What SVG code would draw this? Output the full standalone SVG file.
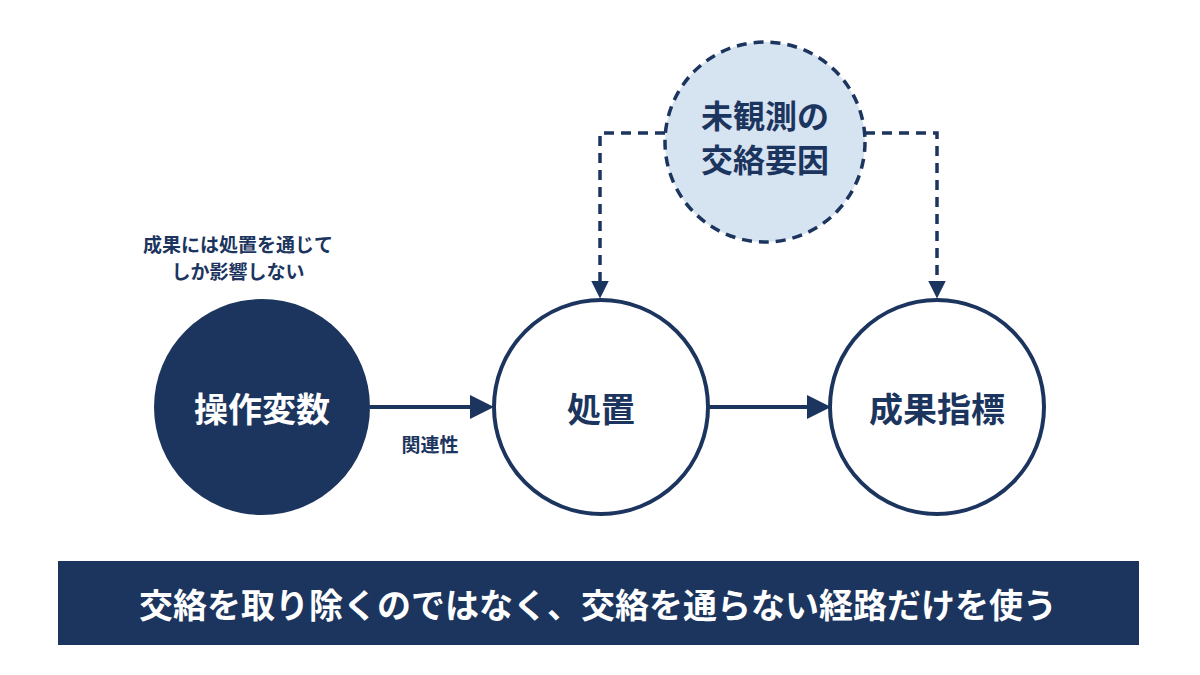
<svg xmlns="http://www.w3.org/2000/svg" width="1200" height="675" viewBox="0 0 1200 675">
<defs>
<style>
text{font-family:"Noto Sans CJK JP","Noto Sans",sans-serif;font-weight:bold;text-anchor:middle;dominant-baseline:central}
.n{fill:#fff;stroke:#1c355e;stroke-width:4}
.c{stroke:#1c355e;stroke-width:4;fill:none}
.d{stroke:#1c355e;stroke-width:3.5;fill:none;stroke-dasharray:10 7}
</style>
<marker id="a" markerWidth="6" markerHeight="6" refX="5" refY="3" orient="auto" markerUnits="strokeWidth"><path d="M0,0L6,3L0,6z" fill="#1c355e"/></marker>
<marker id="b" markerWidth="5" markerHeight="5" refX="4" refY="2.5" orient="auto" markerUnits="strokeWidth"><path d="M0,0L5,2.5L0,5z" fill="#1c355e"/></marker>
</defs>
<rect width="1200" height="675" fill="#fff"/>
<g id="connectors">
<path class="c" d="M370,407H490" marker-end="url(#a)"/>
<path class="c" d="M708,407H827" marker-end="url(#a)"/>
<path class="d" d="M665,133H600V295" marker-end="url(#b)"/>
<path class="d" d="M865,133H937V295" marker-end="url(#b)"/>
</g>
<g id="iv"><circle cx="262" cy="407" r="108" fill="#1c355e"/><text x="262" y="407" font-size="34" fill="#fff">操作変数</text></g>
<g id="treat"><circle class="n" cx="601" cy="407" r="107"/><text x="601" y="407" font-size="34" fill="#1c355e">処置</text></g>
<g id="out"><circle class="n" cx="937" cy="407" r="107"/><text x="937" y="407" font-size="34" fill="#1c355e">成果指標</text></g>
<g id="conf"><circle cx="765" cy="142" r="100" fill="#d6e3f1" stroke="#1c355e" stroke-width="3.5" stroke-dasharray="10 7"/><text x="765" y="114" font-size="32" fill="#1c355e">未観測の</text><text x="765" y="158" font-size="32" fill="#1c355e">交絡要因</text></g>
<g id="labels" fill="#1c355e" font-size="19">
<text x="238" y="243">成果には処置を通じて</text>
<text x="238" y="270">しか影響しない</text>
<text x="430" y="443" font-size="19">関連性</text>
</g>
<g id="banner"><rect x="58" y="561" width="1081" height="84" fill="#1c355e"/><text x="598" y="603" font-size="34" fill="#fff">交絡を取り除くのではなく、交絡を通らない経路だけを使う</text></g>
</svg>
